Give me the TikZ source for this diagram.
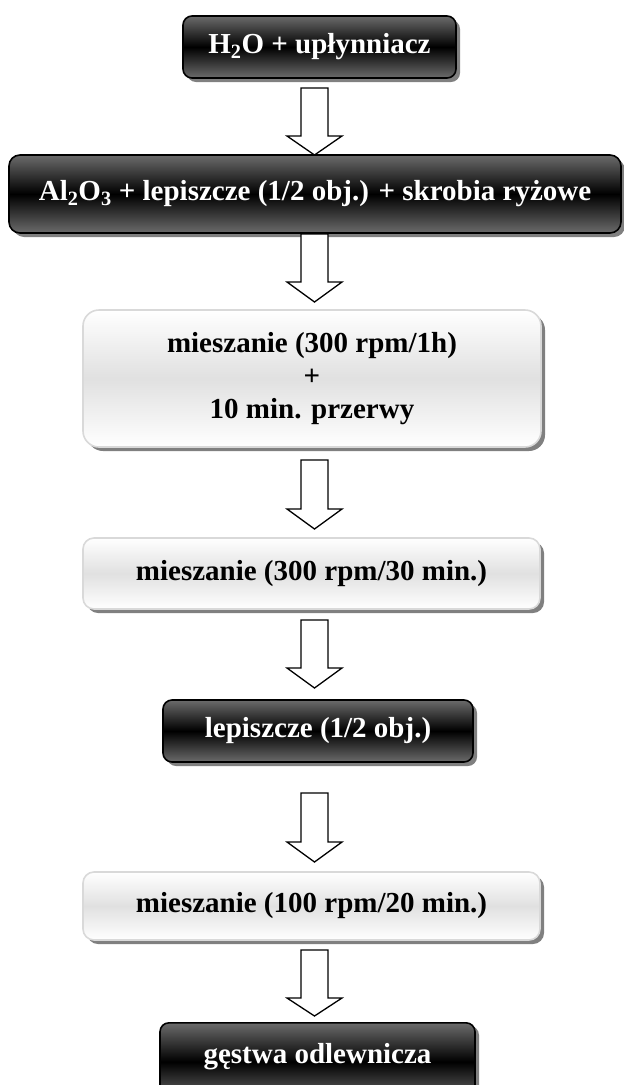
\documentclass[tikz,border=0pt]{standalone}
\usepackage{fontspec}
\setmainfont{Liberation Serif}
\usetikzlibrary{calc}
\begin{document}
\begin{tikzpicture}[x=1pt,y=-1pt,
  box/.style={rounded corners=9pt, line width=1.6pt, font=\bfseries\fontsize{29}{33}\selectfont, align=center, inner sep=0pt},
  darkbox/.style={box, draw=black, text=white, top color=black!58, bottom color=black!58, middle color=black},
  lightbox/.style={box, draw=black!15, text=black, top color=white, bottom color=white, middle color=black!12},
  shadowbox/.style={fill=black!50, rounded corners=9pt},
  barrow/.style={draw=black, fill=white, line width=1.3pt, line join=miter}]
\useasboundingbox (0,0) rectangle (624,1085);
% shadows
\newcommand{\shbox}[5]{\fill[shadowbox,rounded corners=#5] (#1+4,#2+4) rectangle (#3+4,#4+4);}
\shbox{183}{16}{456}{78}{9pt}
\shbox{9}{155}{621}{233}{11pt}
\shbox{83}{310}{541}{447}{16pt}
\shbox{83}{538}{540}{609}{11pt}
\shbox{163}{700}{473}{762}{9pt}
\shbox{83}{872}{540}{940}{11pt}
\shbox{160}{1022}{475}{1100}{9pt}
% boxes
\node[darkbox, minimum width=273pt, minimum height=62pt] (b1) at (319.5,47) {H\textsubscript{2}O + upłynniacz};
\node[darkbox, rounded corners=11pt, minimum width=612pt, minimum height=78pt] (b2) at (315,194) {Al\textsubscript{2}O\textsubscript{3} + lepiszcze (1/2 obj.) + skrobia ryżowe};
\node[lightbox, rounded corners=16pt, minimum width=458pt, minimum height=137pt] (b3) at (312,378.5) {mieszanie (300 rpm/1h)\\+\\10 min. przerwy};
\node[lightbox, rounded corners=11pt, minimum width=457pt, minimum height=71pt] (b4) at (311.5,573.5) {mieszanie (300 rpm/30 min.)};
\node[darkbox, minimum width=310pt, minimum height=62pt] (b5) at (318,731) {lepiszcze (1/2 obj.)};
\node[lightbox, rounded corners=11pt, minimum width=457pt, minimum height=68pt] (b6) at (311.5,906) {mieszanie (100 rpm/20 min.)};
\node[darkbox, minimum width=315pt, minimum height=78pt, anchor=north] (b7) at (317.5,1022) {\raisebox{16pt}{gęstwa odlewnicza}};
% block arrows
\newcommand{\blockarr}[3]{\draw[barrow] (301,#1) -- (328,#1) -- (328,#2) -- (342,#2) -- (314.5,#3) -- (287,#2) -- (301,#2) -- cycle;}
\blockarr{88}{136}{155}
\blockarr{234}{282}{302}
\blockarr{460}{509}{529}
\blockarr{620}{668}{688}
\blockarr{793}{842}{862}
\blockarr{950}{998}{1016}
\end{tikzpicture}
\end{document}
